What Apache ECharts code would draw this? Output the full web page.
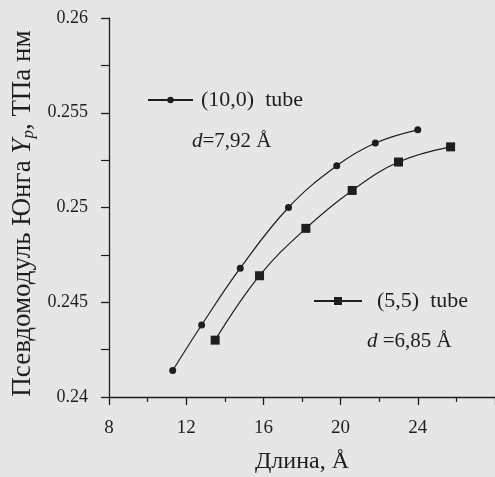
<!DOCTYPE html>
<html>
<head>
<meta charset="utf-8">
<script src="https://cdn.jsdelivr.net/npm/echarts@6/dist/echarts.min.js"></script>
<style>
  html, body { margin: 0; padding: 0; background: #e6e6e6; }
  #main { width: 495px; height: 477px; }
</style>
</head>
<body>
<div id="main"></div>
<script>
// values
var tube100X = [11.3, 12.8, 14.8, 17.3, 19.8, 21.8, 24.0];
var tube100Y = [0.2414, 0.2438, 0.2468, 0.2500, 0.2522, 0.2534, 0.2541];
var tube55X = [13.5, 15.8, 18.2, 20.6, 23.0, 25.7];
var tube55Y = [0.2430, 0.2464, 0.2489, 0.2509, 0.2524, 0.2532];
var seriesNames = ['(10,0)  tube', '(5,5)  tube'];
var diameters = ['=7,92 Å', ' =6,85 Å'];

var serif = '"Liberation Serif", "DejaVu Serif", serif';
var ink = '#1e1e1e';

function pairs (xs, ys) {
    var out = [];
    for (var i = 0; i < xs.length; i++) {
        out.push([xs[i], ys[i]]);
    }
    return out;
}

var option = {
    backgroundColor : '#e6e6e6',
    animation : false,
    grid : {
        left : 109,
        right : 0,
        top : 18,
        bottom : 80,
        containLabel : false,
        outerBoundsMode : 'none'
    },
    legend : [ {
        data : [ seriesNames[0] ],
        left : 147,
        top : 89,
        padding : 0,
        itemWidth : 45,
        itemHeight : 8,
        textStyle : { fontFamily : serif, fontSize : 22, color : ink, padding : [0, 0, 0, 3] }
    }, {
        data : [ seriesNames[1] ],
        left : 313,
        top : 290,
        padding : 0,
        itemWidth : 48,
        itemHeight : 10,
        textStyle : { fontFamily : serif, fontSize : 22, color : ink, padding : [0, 0, 0, 10] }
    } ],
    xAxis : {
        type : 'value',
        min : 8,
        max : 28,
        interval : 4,
        name : 'Длина, Å',
        nameLocation : 'middle',
        nameGap : 53,
        nameTextStyle : { fontFamily : serif, fontSize : 24, color : ink },
        splitLine : { show : false },
        axisLine : { lineStyle : { color : ink, width : 1.3 } },
        axisTick : { inside : false, length : 8, lineStyle : { color : ink, width : 1.3 } },
        minorTick : { show : true, splitNumber : 2, length : 5, lineStyle : { color : ink, width : 1.2 } },
        axisLabel : {
            showMaxLabel : false,
            fontFamily : serif,
            fontSize : 19,
            color : ink,
            margin : 22
        }
    },
    yAxis : {
        type : 'value',
        min : 0.24,
        max : 0.26,
        interval : 0.005,
        name : 'Псевдомодуль Юнга {i|Y}{sub|p}, ТПа нм',
        nameLocation : 'middle',
        nameRotate : 90,
        nameGap : 70,
        nameTextStyle : {
            fontFamily : serif,
            fontSize : 27,
            color : ink,
            padding : [0, 12, 0, 0],
            rich : {
                i : { fontFamily : serif, fontSize : 27, fontStyle : 'italic', color : ink },
                sub : { fontFamily : serif, fontSize : 17, fontStyle : 'italic', color : ink, verticalAlign : 'bottom', padding : [11, 0, 0, 0] }
            }
        },
        splitLine : { show : false },
        axisLine : { show : true, lineStyle : { color : ink, width : 1.3 } },
        axisTick : { show : true, inside : false, length : 8, lineStyle : { color : ink, width : 1.3 } },
        minorTick : { show : true, splitNumber : 2, length : 8, lineStyle : { color : ink, width : 1.2 } },
        axisLabel : {
            fontFamily : serif,
            fontSize : 18,
            color : ink,
            margin : 21,
            formatter : function (v) {
                return String(Math.round(v * 1000) / 1000);
            }
        }
    },
    graphic : [ {
        type : 'text',
        left : 192,
        top : 131,
        style : {
            text : '{d|d}' + diameters[0],
            rich : { d : { fontStyle : 'italic', fontFamily : serif, fontSize : 21, fill : ink } },
            font : '21px ' + serif,
            fill : ink
        }
    }, {
        type : 'text',
        left : 367,
        top : 331,
        style : {
            text : '{d|d}' + diameters[1],
            rich : { d : { fontStyle : 'italic', fontFamily : serif, fontSize : 21, fill : ink } },
            font : '21px ' + serif,
            fill : ink
        }
    } ],
    series : [ {
        name : seriesNames[0],
        type : 'line',
        smooth : 0.4,
        data : pairs(tube100X, tube100Y),
        symbol : 'circle',
        symbolSize : 7,
        itemStyle : { color : ink },
        lineStyle : { color : ink, width : 1.2 }
    }, {
        name : seriesNames[1],
        type : 'line',
        smooth : 0.4,
        data : pairs(tube55X, tube55Y),
        symbol : 'rect',
        symbolSize : 9,
        itemStyle : { color : ink },
        lineStyle : { color : ink, width : 1.2 }
    } ]
};

var chart = echarts.init(document.getElementById('main'));
chart.setOption(option);
</script>
</body>
</html>
